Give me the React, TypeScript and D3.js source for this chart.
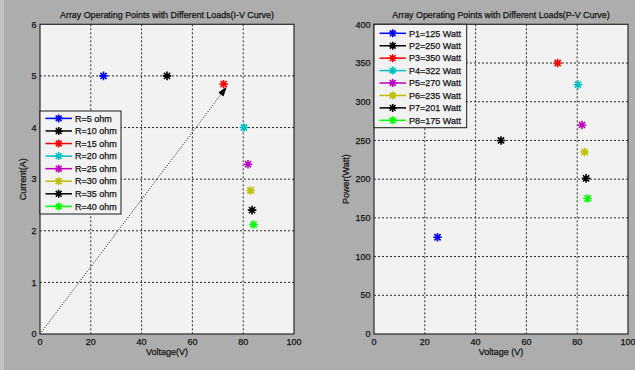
import React from "react";
import * as d3 from "d3";

// Operating points of the PV array for each load resistance
const loads = ["R=5 ohm", "R=10 ohm", "R=15 ohm", "R=20 ohm", "R=25 ohm", "R=30 ohm", "R=35 ohm", "R=40 ohm"];
const powerNames = ["P1", "P2", "P3", "P4", "P5", "P6", "P7", "P8"];
const voltage = [25, 50, 72.3, 80.3, 81.9, 82.9, 83.5, 84.1];
const current = [5, 5, 4.84, 4.0, 3.29, 2.78, 2.4, 2.12];
const power = [125, 250, 350, 322, 270, 235, 201, 175];
const seriesColors = ["#0000ff", "#000000", "#ff0000", "#00bfbf", "#bf00bf", "#bfbf00", "#000000", "#00ff00"];

const xTicks = [0, 20, 40, 60, 80, 100];
const iTicks = [0, 1, 2, 3, 4, 5, 6];
const pTicks = [0, 50, 100, 150, 200, 250, 300, 350, 400];

// Load line for R = 15 ohm, drawn from the origin up to the arrow tip
const loadLineV = [0, 73.2];
const loadLineR = 15.35;

const FONT = "'Liberation Sans', Arial, Helvetica, sans-serif";
const TEXT = "#141414";
const textStyle = { fontFamily: FONT, fill: TEXT, stroke: TEXT, strokeWidth: 0.25 } as const;

function Star({ x, y, color, r = 4.3 }: { x: number; y: number; color: string; r?: number }) {
  const d = 0.72 * r;
  return (
    <path
      d={`M${x - r},${y}H${x + r}M${x},${y - r}V${y + r}M${x - d},${y - d}L${x + d},${y + d}M${x - d},${y + d}L${x + d},${y - d}`}
      stroke={color}
      strokeWidth={1.6}
      fill="none"
    />
  );
}

type PanelProps = {
  left: number;
  right: number;
  top: number;
  bottom: number;
  yDomain: [number, number];
  yTicks: number[];
  yValues: number[];
  title: string;
  xLabel: string;
  yLabel: string;
  yLabelX: number;
  legendLabels: string[];
  legendBox: { x: number; y: number; w: number; h: number; row0: number; step: number };
  children?: (x: d3.ScaleLinear<number, number>, y: d3.ScaleLinear<number, number>) => React.ReactNode;
};

function Panel(p: PanelProps) {
  const x = d3.scaleLinear().domain([0, 100]).range([p.left, p.right]);
  const y = d3.scaleLinear().domain(p.yDomain).range([p.bottom, p.top]);
  const cx = (p.left + p.right) / 2;
  const cy = (p.top + p.bottom) / 2;
  const lb = p.legendBox;
  return (
    <g>
      <rect x={p.left} y={p.top} width={p.right - p.left} height={p.bottom - p.top} fill="#f2f2f2" />
      {/* dotted grid */}
      {xTicks.slice(1, -1).map((t) => (
        <line key={"gx" + t} x1={x(t)} x2={x(t)} y1={p.top} y2={p.bottom} stroke="#2a2a2a" strokeWidth={1} strokeDasharray="2,2" />
      ))}
      {p.yTicks.slice(1, -1).map((t) => (
        <line key={"gy" + t} x1={p.left} x2={p.right} y1={y(t)} y2={y(t)} stroke="#2a2a2a" strokeWidth={1} strokeDasharray="2,2" />
      ))}
      {p.children && p.children(x, y)}
      {/* data points */}
      {voltage.map((v, i) => (
        <Star key={"pt" + i} x={x(v)} y={y(p.yValues[i])} color={seriesColors[i]} />
      ))}
      {/* frame */}
      <rect x={p.left} y={p.top} width={p.right - p.left} height={p.bottom - p.top} fill="none" stroke="#2b2b2b" strokeWidth={1.2} />
      {/* tick labels */}
      {xTicks.map((t) => (
        <text key={"xt" + t} x={x(t)} y={345} textAnchor="middle" fontSize={9} style={textStyle}>
          {t}
        </text>
      ))}
      {p.yTicks.map((t) => (
        <text key={"yt" + t} x={p.left - 3.5} y={y(t) + 3.2} textAnchor="end" fontSize={9} style={textStyle}>
          {t}
        </text>
      ))}
      {/* titles */}
      <text x={cx} y={17.5} textAnchor="middle" fontSize={8.9} style={textStyle}>
        {p.title}
      </text>
      <text x={cx} y={355} textAnchor="middle" fontSize={9} style={textStyle}>
        {p.xLabel}
      </text>
      <text transform={`translate(${p.yLabelX},${cy}) rotate(-90)`} textAnchor="middle" fontSize={9} style={textStyle}>
        {p.yLabel}
      </text>
      {/* legend */}
      <rect x={lb.x} y={lb.y} width={lb.w} height={lb.h} fill="#f2f2f2" stroke="#1a1a1a" strokeWidth={1} />
      {p.legendLabels.map((lab, i) => {
        const ry = lb.row0 + i * lb.step;
        return (
          <g key={"lg" + i}>
            <line x1={lb.x + 5.5} x2={lb.x + 32} y1={ry} y2={ry} stroke={seriesColors[i]} strokeWidth={1.5} />
            <Star x={lb.x + 18.7} y={ry} color={seriesColors[i]} r={4} />
            <text x={lb.x + 35} y={ry + 3.2} fontSize={9} style={textStyle}>
              {lab}
            </text>
          </g>
        );
      })}
    </g>
  );
}

export default function App() {
  const W = 635;
  const H = 370;
  return (
    <svg width={W} height={H} style={{ position: "absolute", left: 0, top: 0, display: "block" }}>
      <rect width={W} height={H} fill="#adadad" />
      <rect width={4} height={H} fill="#c2c2c2" />
      <Panel
        left={40}
        right={294}
        top={24.3}
        bottom={334}
        yDomain={[0, 6]}
        yTicks={iTicks}
        yValues={current}
        title="Array Operating Points with Different Loads(I-V Curve)"
        xLabel="Voltage(V)"
        yLabel="Current(A)"
        yLabelX={25.5}
        legendLabels={loads}
        legendBox={{ x: 40, y: 111, w: 81, h: 103, row0: 118.4, step: 12.57 }}
      >
        {(x, y) => {
          const line = d3
            .line<number>()
            .x((v) => x(v))
            .y((v) => y(v / loadLineR));
          const v1 = loadLineV[1];
          const tipX = x(v1);
          const tipY = y(v1 / loadLineR);
          const ang = Math.atan2(tipY - y(0), tipX - x(0));
          const len = 8;
          const half = 2.8;
          const bx = tipX - len * Math.cos(ang);
          const by = tipY - len * Math.sin(ang);
          const nx = -Math.sin(ang);
          const ny = Math.cos(ang);
          return (
            <g>
              <path d={line(loadLineV) || ""} stroke="#111" strokeWidth={1} strokeDasharray="1,1.6" fill="none" />
              <path
                d={`M${tipX},${tipY}L${bx + nx * half},${by + ny * half}L${bx - nx * half},${by - ny * half}Z`}
                fill="#000"
                stroke="#000"
                strokeWidth={0.8}
              />
            </g>
          );
        }}
      </Panel>
      <Panel
        left={374}
        right={628}
        top={24.3}
        bottom={334}
        yDomain={[0, 400]}
        yTicks={pTicks}
        yValues={power}
        title="Array Operating Points with Different Loads(P-V Curve)"
        xLabel="Voltage (V)"
        yLabel="Power(Watt)"
        yLabelX={349}
        legendLabels={powerNames.map((n, i) => `${n}=${power[i]} Watt`)}
        legendBox={{ x: 374, y: 24.3, w: 92.7, h: 103.4, row0: 33.3, step: 12.43 }}
      />
    </svg>
  );
}
